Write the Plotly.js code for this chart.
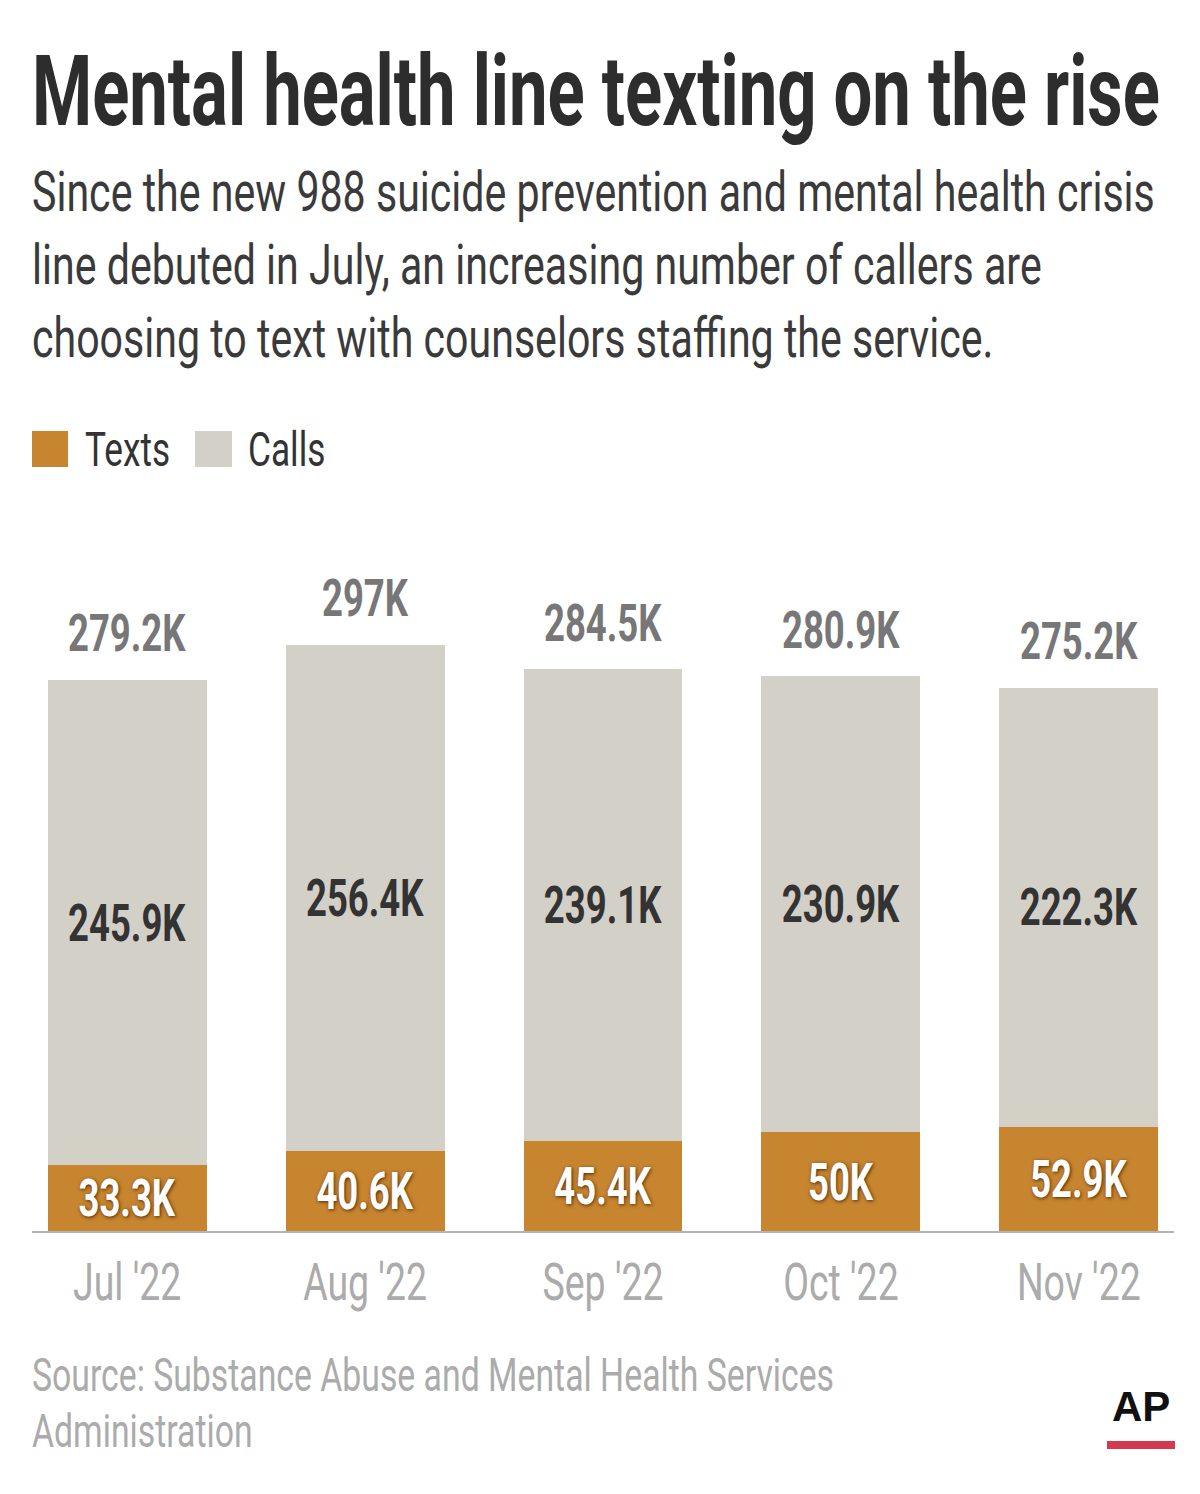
<!DOCTYPE html>
<html>
<head>
<meta charset="utf-8">
<script src="https://cdn.plot.ly/plotly-3.0.1.min.js"></script>
<style>
  html, body { margin: 0; padding: 0; background: #ffffff; }
  #chart { width: 1200px; height: 1494px; }
</style>
</head>
<body>
<div id="chart"></div>
<script>
// ---- data (thousands) ----
const months = ["Jul '22", "Aug '22", "Sep '22", "Oct '22", "Nov '22"];
const texts = [33.3, 40.6, 45.4, 50, 52.9];
const calls = [245.9, 256.4, 239.1, 230.9, 222.3];
const totals = [279.2, 297, 284.5, 280.9, 275.2];
const seriesNames = ["Texts", "Calls"];
const seriesColors = ["#c8852f", "#d3d0c8"];

const titleText = "Mental health line texting on the rise";
const subtitleLines = [
  "Since the new 988 suicide prevention and mental health crisis",
  "line debuted in July, an increasing number of callers are",
  "choosing to text with counselors staffing the service."
];
const sourceLines = [
  "Source: Substance Abuse and Mental Health Services",
  "Administration"
];

// ---- layout helpers ----
const W = 1200, H = 1494;
const M = { l: 32, r: 26, t: 531, b: 263 };
const plotW = W - M.l - M.r, plotH = H - M.t - M.b;
const px = X => (X - M.l) / plotW;          // pixel x -> paper x
const py = Y => (H - M.b - Y) / plotH;      // pixel y -> paper y

const FONT = "Roboto, 'Liberation Sans', Arial, sans-serif";
const fmt = v => v + "K";

// The reference uses a condensed typeface and none is installed. Text is set at
// a width-matching size and then stretched vertically (around its cap centre)
// to the reference's letter height, which gives the same condensed look.
const cv = document.createElement("canvas").getContext("2d");
const measure = (txt, size, weight) => { cv.font = `${weight} ${size}px Roboto`; return cv.measureText(txt).width; };
const fBold = 1128 / measure(titleText, 98, 700);
const fReg = 1123 / measure(subtitleLines[0], 56, 400);
const sz = (visual, bold) => +(visual * (bold ? fBold : fReg)).toFixed(2);

const traces = [
  {
    type: "bar", name: seriesNames[0], x: months, y: texts,
    marker: { color: seriesColors[0], line: { width: 0 } },
    text: texts.map(fmt), textposition: "inside", insidetextanchor: "middle",
    constraintext: "none", textangle: 0,
    textfont: { family: FONT, size: sz(52, true), color: "#ffffff", weight: 700,
                shadow: "1px 1px 4px rgba(70,35,0,0.95)" },
    hoverinfo: "skip"
  },
  {
    type: "bar", name: seriesNames[1], x: months, y: calls,
    marker: { color: seriesColors[1], line: { width: 0 } },
    text: calls.map(fmt), textposition: "inside", insidetextanchor: "middle",
    constraintext: "none", textangle: 0,
    textfont: { family: FONT, size: sz(52, true), color: "#333333", weight: 700 },
    hoverinfo: "skip"
  }
];

const annotations = [];
// totals above bars
months.forEach((m, i) => {
  annotations.push({
    x: m, y: totals[i], xref: "x", yref: "y", text: fmt(totals[i]),
    showarrow: false, xanchor: "center", yanchor: "middle", yshift: 46,
    font: { family: FONT, size: sz(52, true), color: "#777777", weight: 700 }
  });
});
// title
annotations.push({
  xref: "paper", yref: "paper", x: px(30), y: py(92), xanchor: "left", yanchor: "middle",
  align: "left", text: titleText, showarrow: false,
  font: { family: FONT, size: sz(98, true), color: "#2d2d2d", weight: 700 }
});
// subtitle
const subY = [192, 265, 338];
subtitleLines.forEach((t, i) => {
  annotations.push({
    xref: "paper", yref: "paper", x: px(30), y: py(subY[i]), xanchor: "left", yanchor: "middle",
    align: "left", text: t, showarrow: false,
    font: { family: FONT, size: sz(56, false), color: "#3a3a3a" }
  });
});
// legend labels
const legTextX = [84, 247];
seriesNames.forEach((n, i) => {
  annotations.push({
    xref: "paper", yref: "paper", x: px(legTextX[i] - 1), y: py(449), xanchor: "left", yanchor: "middle",
    align: "left", text: n, showarrow: false,
    font: { family: FONT, size: sz(48, false), color: "#333333" }
  });
});
// source
const srcY = [1375, 1431];
sourceLines.forEach((t, i) => {
  annotations.push({
    xref: "paper", yref: "paper", x: px(30), y: py(srcY[i]), xanchor: "left", yanchor: "middle",
    align: "left", text: t, showarrow: false,
    font: { family: FONT, size: sz(46, false), color: "#ababab" }
  });
});
// AP logo
annotations.push({
  xref: "paper", yref: "paper", x: px(1141), y: py(1406), xanchor: "center", yanchor: "middle",
  text: "AP", showarrow: false,
  font: { family: "'Liberation Sans', Arial, sans-serif", size: 42, color: "#111111", weight: 700 }
});

const legSqX = [[32, 68], [195, 232]];
const shapes = legSqX.map((s, i) => ({
  type: "rect", xref: "paper", yref: "paper",
  x0: px(s[0]), x1: px(s[1]), y0: py(467), y1: py(431),
  fillcolor: seriesColors[i], line: { width: 0 }
}));
shapes.push({
  type: "rect", xref: "paper", yref: "paper",
  x0: px(1107), x1: px(1175), y0: py(1449), y1: py(1441),
  fillcolor: "#d4394d", line: { width: 0 }
});

const layout = {
  width: W, height: H,
  margin: M,
  paper_bgcolor: "#ffffff", plot_bgcolor: "#ffffff",
  barmode: "stack", bargap: 0.332,
  showlegend: false,
  xaxis: {
    type: "category", range: [-0.4, 4.4], fixedrange: true,
    showline: true, linecolor: "#b4b4b4", linewidth: 2,
    showgrid: false, zeroline: false, ticks: "", ticklabelstandoff: 17,
    tickfont: { family: FONT, size: sz(51, false), color: "#ababab" }
  },
  yaxis: { range: [0, 354.6], visible: false, fixedrange: true },
  annotations: annotations,
  shapes: shapes
};

function stretch(gd) {
  gd.querySelectorAll("text").forEach(t => {
    if (!t.textContent || t.textContent === "AP") return;
    const fw = (t.style.fontWeight || "").toString();
    const bold = fw === "bold" || parseInt(fw, 10) >= 600;
    const k = 1 / (bold ? fBold : fReg);
    const s = parseFloat(t.style.fontSize) || 12;
    let y = parseFloat(t.getAttribute("y")) || 0;
    const dy = t.getAttribute("dy");
    if (dy) y += dy.endsWith("em") ? parseFloat(dy) * s : parseFloat(dy) || 0;
    const yc = y - 0.355 * s;
    const prev = t.getAttribute("transform") || "";
    t.setAttribute("transform",
      `${prev} translate(0,${yc.toFixed(2)}) scale(1,${k.toFixed(4)}) translate(0,${(-yc).toFixed(2)})`.trim());
  });
}

Plotly.newPlot("chart", traces, layout, { staticPlot: true, displayModeBar: false })
  .then(stretch);
</script>
</body>
</html>
